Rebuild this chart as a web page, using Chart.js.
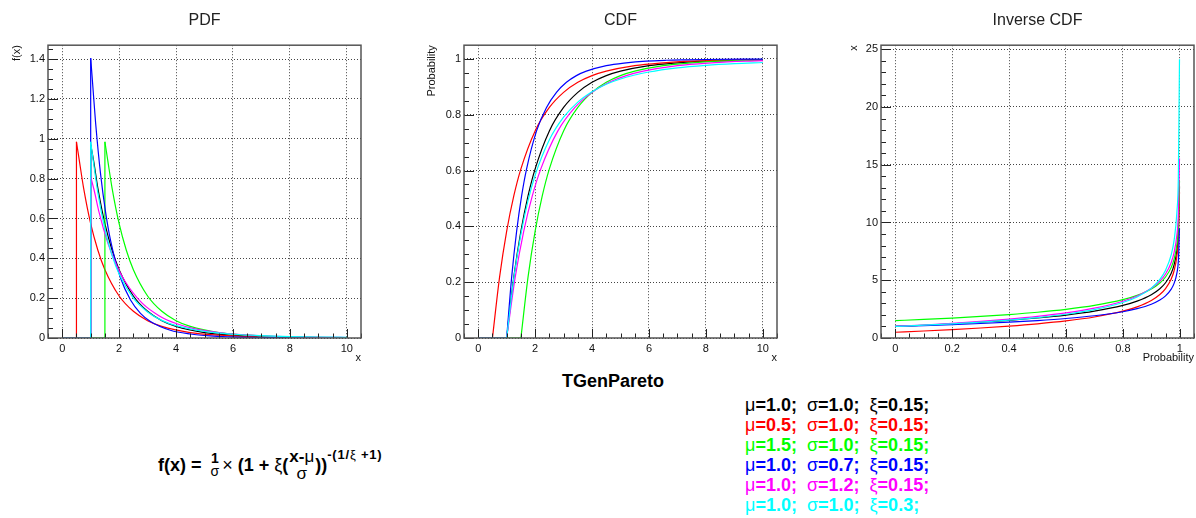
<!DOCTYPE html>
<html>
<head>
<meta charset="utf-8">
<script src="https://cdn.jsdelivr.net/npm/chart.js@4.4.1/dist/chart.umd.min.js"></script>
<style>
  body { margin: 0; background: #fff; width: 1196px; height: 518px; overflow: hidden; position: relative;
         font-family: 'Liberation Sans', Arial, sans-serif; color: #000; }
  canvas.panel { position: absolute; top: 0; }
  #title { position: absolute; left: 562px; top: 371px; font-weight: bold; font-size: 18px; line-height: 20px; }
  #legend { position: absolute; left: 745px; top: 395px; font-weight: bold; font-size: 18px; line-height: 20px; white-space: pre; }
  .g { font-weight: normal; }
  #formula { position: absolute; left: 158px; top: 444px; height: 42px; display: flex; align-items: center;
             font-weight: bold; font-size: 18px; white-space: pre; }
  .frac { display: inline-flex; flex-direction: column; align-items: center; font-size: 14px; line-height: 13px; margin: 0 3px 0 4px; }
  .frac.big { font-size: 17px; line-height: 17px; margin: 0 1px; }
  .sup { font-size: 13px; letter-spacing: 0.8px; align-self: flex-start; margin-top: 3px; }
</style>
</head>
<body>
<canvas id="pdfChart" class="panel" width="400" height="370" style="left:0px"></canvas>
<canvas id="cdfChart" class="panel" width="400" height="370" style="left:400px"></canvas>
<canvas id="invChart" class="panel" width="396" height="370" style="left:800px"></canvas>

<div id="title">TGenPareto</div>
<div id="legend"></div>
<div id="formula"><span>f(x) = </span><span class="frac"><span>1</span><span class="g">σ</span></span><span class="g">×</span><span> (1 + </span><span class="g">ξ</span><span>(</span><span class="frac big"><span>x-<span class="g">μ</span></span><span class="g">σ</span></span><span>))</span><span class="sup">-(1/<span class="g">ξ</span> +1)</span></div>

<script>
// parameters of the six curves (black, red, green, blue, magenta, cyan)
const muVals = ['1.0', '0.5', '1.5', '1.0', '1.0', '1.0'];
const sigmaVals = ['1.0', '1.0', '1.0', '0.7', '1.2', '1.0'];
const xiVals = ['0.15', '0.15', '0.15', '0.15', '0.15', '0.3'];
const onsetX = [1.0, 0.5, 1.5, 1.0, 1.0, 1.0];
const seriesColors = ['#000000', '#ff0000', '#00ff00', '#0000ff', '#ff00ff', '#00ffff'];

// PDF panel
const pdfX = [
  [1, 1.1, 1.25, 1.5, 1.75, 2, 2.5, 3, 3.5, 4, 5, 6, 7, 8, 9, 10],
  [0.5, 0.6, 0.75, 1, 1.25, 1.5, 2, 2.5, 3, 3.5, 4.5, 5.5, 6.5, 7.5, 8.5, 9.5, 10],
  [1.5, 1.6, 1.75, 2, 2.25, 2.5, 3, 3.5, 4, 4.5, 5.5, 6.5, 7.5, 8.5, 10],
  [1, 1.07, 1.175, 1.35, 1.525, 1.7, 2.05, 2.4, 2.75, 3.1, 3.8, 4.5, 5.2, 5.9, 6.6, 7.3, 8, 10],
  [1, 1.12, 1.3, 1.6, 1.9, 2.2, 2.8, 3.4, 4, 4.6, 5.8, 7, 8.2, 9.4, 10],
  [1, 1.1, 1.25, 1.5, 1.75, 2, 2.5, 3, 3.5, 4, 5, 6, 7, 8, 9, 10]
];
const pdfY = [
  [0.97, 0.892, 0.754, 0.574, 0.442, 0.343, 0.211, 0.134, 0.087, 0.058, 0.027, 0.014, 0.0073, 0.0041, 0.0024, 0.0014],
  [0.985, 0.892, 0.754, 0.574, 0.442, 0.343, 0.211, 0.134, 0.087, 0.058, 0.027, 0.014, 0.0073, 0.0041, 0.0024, 0.0014, 0.0011],
  [0.985, 0.892, 0.754, 0.574, 0.442, 0.343, 0.211, 0.134, 0.087, 0.058, 0.027, 0.014, 0.0073, 0.0041, 0.0018],
  [1.405, 1.274, 1.077, 0.82, 0.631, 0.489, 0.301, 0.191, 0.124, 0.083, 0.039, 0.02, 0.0104, 0.0059, 0.0034, 0.002, 0.0013, 0.0004],
  [0.81, 0.743, 0.628, 0.478, 0.368, 0.286, 0.176, 0.112, 0.0725, 0.0483, 0.0227, 0.0114, 0.0061, 0.0034, 0.0026],
  [0.985, 0.88, 0.731, 0.546, 0.415, 0.321, 0.2, 0.131, 0.0885, 0.0619, 0.0328, 0.0189, 0.0116, 0.0074, 0.005, 0.0035]
];

// CDF panel
const cdfX = [
  [1, 1.25, 1.5, 1.75, 2, 2.5, 3, 3.5, 4, 4.5, 5, 6, 7, 8, 9, 10],
  [0.5, 0.75, 1, 1.25, 1.5, 2, 2.5, 3, 3.5, 4, 4.5, 5.5, 6.5, 7.5, 8.5, 9.5, 10],
  [1.5, 1.75, 2, 2.25, 2.5, 3, 3.5, 4, 4.5, 5, 5.5, 6.5, 7.5, 8.5, 9.5, 10],
  [1, 1.175, 1.35, 1.525, 1.7, 2.05, 2.4, 2.75, 3.1, 3.45, 3.8, 4.5, 5.2, 5.9, 6.6, 7.3, 8, 10],
  [1, 1.3, 1.6, 1.9, 2.2, 2.8, 3.4, 4, 4.6, 5.2, 5.8, 7, 8.2, 9.4, 10],
  [1, 1.25, 1.5, 1.75, 2, 2.5, 3, 3.5, 4, 4.5, 5, 6, 7, 8, 9, 10]
];
const cdfY = [
  [0, 0.218, 0.383, 0.509, 0.606, 0.742, 0.826, 0.88, 0.916, 0.94, 0.956, 0.976, 0.986, 0.992, 0.995, 0.9966],
  [0, 0.218, 0.383, 0.509, 0.606, 0.742, 0.826, 0.88, 0.916, 0.94, 0.956, 0.976, 0.986, 0.992, 0.995, 0.9966, 0.9973],
  [0, 0.218, 0.383, 0.509, 0.606, 0.742, 0.826, 0.88, 0.916, 0.94, 0.956, 0.976, 0.986, 0.992, 0.995, 0.9958],
  [0, 0.218, 0.383, 0.509, 0.606, 0.742, 0.826, 0.88, 0.916, 0.94, 0.956, 0.976, 0.986, 0.992, 0.995, 0.9966, 0.9978, 0.9992],
  [0, 0.218, 0.383, 0.509, 0.606, 0.742, 0.826, 0.88, 0.916, 0.94, 0.956, 0.976, 0.986, 0.992, 0.9934],
  [0, 0.214, 0.372, 0.492, 0.583, 0.71, 0.791, 0.845, 0.882, 0.909, 0.928, 0.953, 0.968, 0.977, 0.983, 0.987]
];

// Inverse CDF panel
const invP = [0, 0.1, 0.2, 0.3, 0.4, 0.5, 0.6, 0.7, 0.8, 0.85, 0.9, 0.93, 0.95, 0.97, 0.98, 0.99, 0.995, 0.999];
const invX = [
  [1, 1.106, 1.227, 1.366, 1.531, 1.731, 1.982, 2.32, 2.82, 3.195, 3.75, 4.268, 4.782, 5.614, 6.322, 7.635, 9.092, 13.12],
  [0.5, 0.606, 0.727, 0.866, 1.031, 1.231, 1.482, 1.82, 2.32, 2.695, 3.25, 3.768, 4.282, 5.114, 5.822, 7.135, 8.592, 12.62],
  [1.5, 1.606, 1.727, 1.866, 2.031, 2.231, 2.482, 2.82, 3.32, 3.695, 4.25, 4.768, 5.282, 6.114, 6.822, 8.135, 9.592, 13.62],
  [1, 1.074, 1.159, 1.256, 1.372, 1.512, 1.687, 1.924, 2.274, 2.537, 2.925, 3.288, 3.647, 4.23, 4.725, 5.645, 6.664, 9.49],
  [1, 1.127, 1.272, 1.439, 1.637, 1.877, 2.178, 2.584, 3.184, 3.634, 4.3, 4.922, 5.538, 6.537, 7.386, 8.962, 10.71, 15.55],
  [1, 1.107, 1.231, 1.376, 1.552, 1.771, 2.055, 2.45, 3.069, 3.556, 4.318, 5.068, 5.855, 7.211, 8.446, 10.94, 14.0, 24.14]
];

// tick labels
const pdfXTicks = [0, 2, 4, 6, 8, 10];
const pdfYTicks = [0, 0.2, 0.4, 0.6, 0.8, 1, 1.2, 1.4];
const cdfYTicks = [0, 0.2, 0.4, 0.6, 0.8, 1];
const invXTicks = [0, 0.2, 0.4, 0.6, 0.8, 1];
const invYTicks = [0, 5, 10, 15, 20, 25];

// legend text
document.getElementById('legend').innerHTML = muVals.map((mu, i) =>
  '<div style="color:' + seriesColors[i] + '"><span class="g">μ</span>=' + mu + ';  <span class="g">σ</span>=' +
  sigmaVals[i] + ';  <span class="g">ξ</span>=' + xiVals[i] + ';</div>').join('');

// ROOT-like frame with inward major/minor ticks
const rootAxes = {
  id: 'rootAxes',
  afterDraw(chart, args, opts) {
    const {ctx, chartArea: a} = chart;
    const sx = chart.scales.x, sy = chart.scales.y;
    const isMajor = (s, v) => s.ticks.some(t => Math.abs(t.value - v) < 1e-6);
    ctx.save();
    ctx.strokeStyle = '#222';
    ctx.lineWidth = 1;
    ctx.beginPath();
    for (let k = Math.ceil(sx.min / opts.xMinor - 1e-6); k * opts.xMinor <= sx.max + 1e-6; k++) {
      const v = k * opts.xMinor;
      const px = Math.round(sx.getPixelForValue(v)) + 0.5;
      ctx.moveTo(px, a.bottom);
      ctx.lineTo(px, a.bottom - (isMajor(sx, v) ? 9 : 4.5));
    }
    for (let k = Math.ceil(sy.min / opts.yMinor - 1e-6); k * opts.yMinor <= sy.max + 1e-6; k++) {
      const v = k * opts.yMinor;
      const py = Math.round(sy.getPixelForValue(v)) + 0.5;
      ctx.moveTo(a.left, py);
      ctx.lineTo(a.left + (isMajor(sy, v) ? 10 : 5), py);
    }
    ctx.stroke();
    ctx.strokeStyle = '#555';
    ctx.lineWidth = 1.5;
    ctx.strokeRect(a.left, a.top, a.right - a.left, a.bottom - a.top);
    ctx.restore();
  }
};

const tickFont = {family: "'Liberation Sans', Arial, sans-serif", size: 11};

function makePanel(id, o) {
  const datasets = [];
  seriesColors.forEach((col, i) => {
    if (o.base) {
      datasets.push({data: o.base(i), borderColor: col, tension: 0, order: -i});
    }
    const xs = o.xs(i), ys = o.ys[i];
    datasets.push({
      data: xs.map((x, k) => ({x: x, y: ys[k]})),
      borderColor: col,
      cubicInterpolationMode: 'monotone',
      order: -i
    });
  });
  datasets.forEach(d => { d.borderWidth = 1.2; d.pointRadius = 0; d.fill = false; });

  return new Chart(document.getElementById(id), {
    type: 'line',
    data: {datasets: datasets},
    plugins: [rootAxes],
    options: {
      responsive: false,
      animation: false,
      layout: {padding: {left: 0, right: o.padR, top: 0, bottom: 0}},
      plugins: {
        legend: {display: false},
        tooltip: {enabled: false},
        title: {
          display: true, text: o.title, fullSize: false, color: '#222',
          font: {family: "'Liberation Sans', Arial, sans-serif", size: 16, weight: 'normal'},
          padding: {top: 11, bottom: 15}
        },
        rootAxes: {xMinor: o.xMinor, yMinor: o.yMinor}
      },
      scales: {
        x: {
          type: 'linear', min: o.xMin, max: o.xMax,
          afterBuildTicks: s => { s.ticks = o.xTicks.map(v => ({value: v})); },
          afterFit: s => { s.height = 32; },
          ticks: {font: tickFont, color: '#111', padding: 4, maxRotation: 0, autoSkip: false, callback: v => String(v)},
          grid: {color: '#444', drawTicks: false},
          border: {display: false, dash: [1, 2]},
          title: {display: true, text: o.xTitle, align: 'end', color: '#111', font: tickFont, padding: {top: 0, bottom: 5}}
        },
        y: {
          type: 'linear', min: o.yMin, max: o.yMax,
          afterBuildTicks: s => { s.ticks = o.yTicks.map(v => ({value: v})); },
          afterFit: s => { s.width = o.yW; },
          ticks: {font: tickFont, color: '#111', padding: 3, autoSkip: false, callback: v => String(v)},
          grid: {color: '#444', drawTicks: false},
          border: {display: false, dash: [1, 2]},
          title: {display: true, text: o.yTitle, align: 'end', color: '#111', font: tickFont, padding: {top: o.yTitlePad, bottom: 0}}
        }
      }
    }
  });
}

makePanel('pdfChart', {
  title: 'PDF', xTitle: 'x', yTitle: 'f(x)',
  xs: i => pdfX[i], ys: pdfY,
  base: i => [{x: 0, y: 0}, {x: onsetX[i], y: 0}, {x: onsetX[i], y: pdfY[i][0]}],
  xMin: -0.5, xMax: 10.5, yMin: 0, yMax: 1.47,
  xTicks: pdfXTicks, yTicks: pdfYTicks, xMinor: 0.5, yMinor: 0.05,
  yW: 48, padR: 39, yTitlePad: 10
});

makePanel('cdfChart', {
  title: 'CDF', xTitle: 'x', yTitle: 'Probability',
  xs: i => cdfX[i], ys: cdfY,
  base: i => [{x: 0, y: 0}, {x: onsetX[i], y: 0}],
  xMin: -0.5, xMax: 10.5, yMin: 0, yMax: 1.049,
  xTicks: pdfXTicks, yTicks: cdfYTicks, xMinor: 0.5, yMinor: 0.05,
  yW: 64, padR: 23, yTitlePad: 25
});

makePanel('invChart', {
  title: 'Inverse CDF', xTitle: 'Probability', yTitle: 'x',
  xs: i => invP, ys: invX,
  base: null,
  xMin: -0.05, xMax: 1.05, yMin: 0, yMax: 25.35,
  xTicks: invXTicks, yTicks: invYTicks, xMinor: 0.05, yMinor: 1,
  yW: 81, padR: 2, yTitlePad: 47
});
</script>
</body>
</html>
